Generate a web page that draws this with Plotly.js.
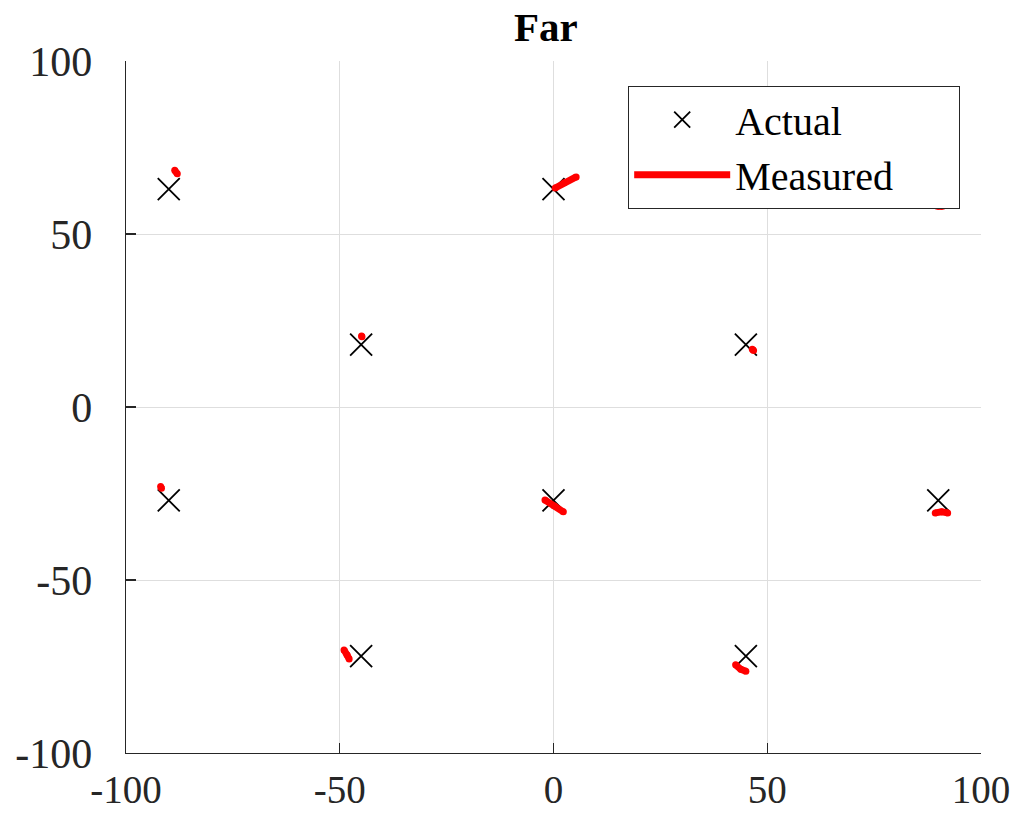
<!DOCTYPE html>
<html>
<head>
<meta charset="utf-8">
<script src="https://cdn.plot.ly/plotly-3.0.1.min.js"></script>
<style>
  html, body { margin: 0; padding: 0; background: #fff; }
  #chart { width: 1011px; height: 818px; }
</style>
</head>
<body>
<div id="chart"></div>
<script>
// Target grid positions (actual)
const actualX = [-90, 0, -45, 45, -90, 0, 90, -45, 45];
const actualY = [63, 63, 18, 18, -27, -27, -27, -72, -72];

// Measured tracks, one short segment per target, separated by null gaps
const measuredX = [
  -88.6, -88.0, null,
  0.4, 2.5, 5.3, null,
  -44.9, -44.8, null,
  46.5, 46.8, null,
  -91.9, -91.7, null,
  -2.0, 0.2, 2.3, null,
  89.3, 90.8, 92.2, null,
  -49.0, -48.3, -47.8, null,
  42.6, 43.8, 45.0, null,
  89.8, 91.0
];
const measuredY = [
  68.4, 67.4, null,
  63.3, 64.8, 66.5, null,
  20.5, 20.3, null,
  16.7, 16.3, null,
  -23.0, -23.5, null,
  -26.9, -28.6, -30.3, null,
  -30.6, -30.3, -30.6, null,
  -70.2, -71.6, -72.8, null,
  -74.5, -75.8, -76.4, null,
  58.0, 58.0
];

const serif = "Liberation Serif, Times New Roman, serif";
const pad = '\u00a0'.repeat(6);

const traces = [
  {
    x: actualX, y: actualY,
    type: 'scatter', mode: 'markers', name: 'Actual',
    marker: { symbol: 'x-thin', size: 22, color: '#000',
              line: { color: '#000', width: 1.8 } }
  },
  {
    x: measuredX, y: measuredY,
    type: 'scatter', mode: 'lines', name: 'Measured' + pad,
    connectgaps: false,
    line: { color: '#ff0000', width: 7 }
  },
  {
    x: measuredX, y: measuredY,
    type: 'scatter', mode: 'markers', showlegend: false,
    hoverinfo: 'skip',
    marker: { color: '#ff0000', size: 7 }
  }
];

const axisCommon = {
  range: [-100, 100],
  tickvals: [-100, -50, 0, 50, 100],
  ticktext: ['-100', '-50', '0', '50', '100'],
  ticks: 'inside', ticklen: 10, tickwidth: 1.3, tickcolor: '#262626',
  showline: true, linecolor: '#262626', linewidth: 1.3,
  showgrid: true, gridcolor: '#dedede', gridwidth: 1,
  zeroline: false, mirror: false,
  fixedrange: true
};

const layout = {
  width: 1011, height: 818,
  margin: { l: 126, r: 30, t: 61, b: 65 },
  paper_bgcolor: '#fff', plot_bgcolor: '#fff',
  title: {
    text: '<b>Far</b>',
    font: { family: serif, size: 41, color: '#000' },
    x: 0.540, xanchor: 'center', yref: 'container', y: 0.985, yanchor: 'top'
  },
  xaxis: Object.assign({}, axisCommon, {
    ticklabelstandoff: 2,
    tickfont: { family: serif, size: 39, color: '#262626' }
  }),
  yaxis: Object.assign({}, axisCommon, {
    ticklabelstandoff: 24,
    tickfont: { family: serif, size: 42, color: '#262626' }
  }),
  showlegend: true,
  legend: {
    x: 0.587, y: 0.964, xanchor: 'left', yanchor: 'top',
    bgcolor: '#fff', bordercolor: '#262626', borderwidth: 1.3,
    font: { family: serif, size: 40, color: '#000' },
    itemwidth: 96, tracegroupgap: 0
  }
};

Plotly.newPlot('chart', traces, layout, { staticPlot: true, displayModeBar: false });
</script>
</body>
</html>
